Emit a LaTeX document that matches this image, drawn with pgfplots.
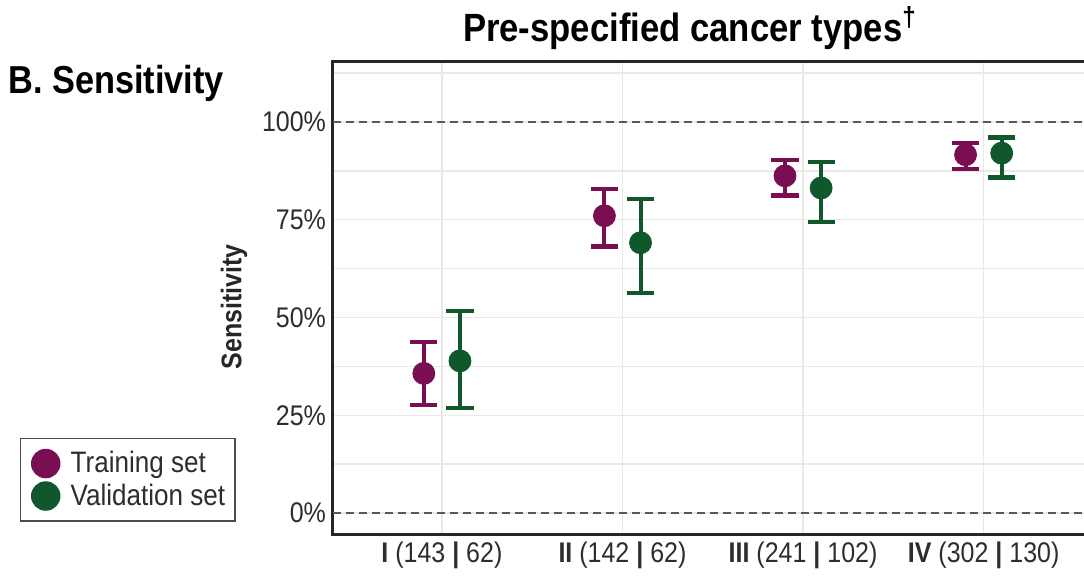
\documentclass[border=0pt]{standalone}
\usepackage{pgfplots}
\pgfplotsset{compat=1.18}
\usepackage{pgfplotstable}
\usepackage{fontspec}
\setmainfont{Liberation Sans}[FakeStretch=0.88]
\definecolor{train}{RGB}{122,14,82}
\definecolor{valid}{RGB}{14,88,44}
\definecolor{gridc}{RGB}{233,233,233}
\definecolor{txt}{RGB}{45,45,45}

\pgfplotstableread{
x y ep em
-0.1 35.7 8.1 8.1
0.9 76.0 6.8 7.9
1.9 86.2 4.1 5.0
2.9 91.6 3.0 3.7
}\traintab
\pgfplotstableread{
x y ep em
0.1 38.9 12.8 12.1
1.1 69.1 11.2 12.8
2.1 83.1 6.7 8.7
3.1 92.0 4.0 6.2
}\validtab

\begin{document}
\begin{tikzpicture}
\begin{axis}[
  at={(0,0)}, anchor=south west,
  scale only axis, width=379.5pt, height=236.5pt,
  xmin=-0.603, xmax=3.6, ymin=-5.6, ymax=115.3,
  xtick={0,1,2,3},
  xticklabels={{\textbf{I} (143 \textbf{|} 62)},{\textbf{II} (142 \textbf{|} 62)},{\textbf{III} (241 \textbf{|} 102)},{\textbf{IV} (302 \textbf{|} 130)}},
  ytick={0,25,50,75,100},
  yticklabels={0\%,25\%,50\%,75\%,100\%},
  minor ytick={12.5,37.5,62.5,87.5,112.5},
  xmajorgrids, ymajorgrids, yminorgrids,
  grid style={gridc, line width=0.75pt},
  minor grid style={gridc, line width=0.75pt},
  major tick length=0pt, minor tick length=0pt,
  axis line style={line width=1.5pt, color=black!85},
  tick label style={font=\fontsize{14.2}{16}\selectfont, text=txt},
  ylabel={\textbf{Sensitivity}},
  ylabel style={font=\fontsize{14.2}{16}\selectfont, text=black!85, at={(axis description cs:-0.1304,0.482)}, anchor=center},
  legend style={at={(axis description cs:-0.4124,0.0275)}, anchor=south west,
    draw=black!70, line width=0.75pt, font=\fontsize{14.8}{16}\selectfont, text=txt,
    inner xsep=3pt, inner ysep=4.5pt},
  legend cell align=left,
  legend image code/.code={%
    \path[draw=none, fill=none] (0pt,-1pt) (20pt,1pt);
    \draw[#1] plot coordinates {(9.5pt,0pt)};},
]
\addlegendimage{only marks, mark=*, mark size=7pt, train}
\addlegendentry{Training set}
\addlegendimage{only marks, mark=*, mark size=7pt, valid}
\addlegendentry{Validation set}

\addplot[forget plot, color=black!65, dash pattern=on 4pt off 2.5pt, line width=0.8pt] coordinates {(-0.603,0) (3.6,0)};
\addplot[forget plot, color=black!65, dash pattern=on 4pt off 2.5pt, line width=0.8pt] coordinates {(-0.603,100) (3.6,100)};

\addplot[forget plot, only marks, mark=*, mark size=5.5pt, color=train,
  error bars/.cd, y dir=both, y explicit,
  error bar style={line width=2pt, color=train},
  error mark options={rotate=90, line width=2.2pt, mark size=6.8pt, color=train}]
  table[x=x, y=y, y error plus=ep, y error minus=em] {\traintab};
\addplot[forget plot, only marks, mark=*, mark size=5.5pt, color=valid,
  error bars/.cd, y dir=both, y explicit,
  error bar style={line width=2pt, color=valid},
  error mark options={rotate=90, line width=2.2pt, mark size=6.8pt, color=valid}]
  table[x=x, y=y, y error plus=ep, y error minus=em] {\validtab};
\end{axis}
\node[font=\bfseries\fontsize{19.7}{22}\selectfont, anchor=base, inner sep=0pt] at (178.5pt,246.5pt) {Pre-specified cancer types\textsuperscript{†}};
\node[font=\bfseries\fontsize{19.5}{22}\selectfont, anchor=base west, inner sep=0pt] at (-162.5pt,220.5pt) {B. Sensitivity};
\pgfresetboundingbox
\useasboundingbox (-166.5pt,-21.5pt) rectangle (375.5pt,267.5pt);
\end{tikzpicture}
\end{document}
